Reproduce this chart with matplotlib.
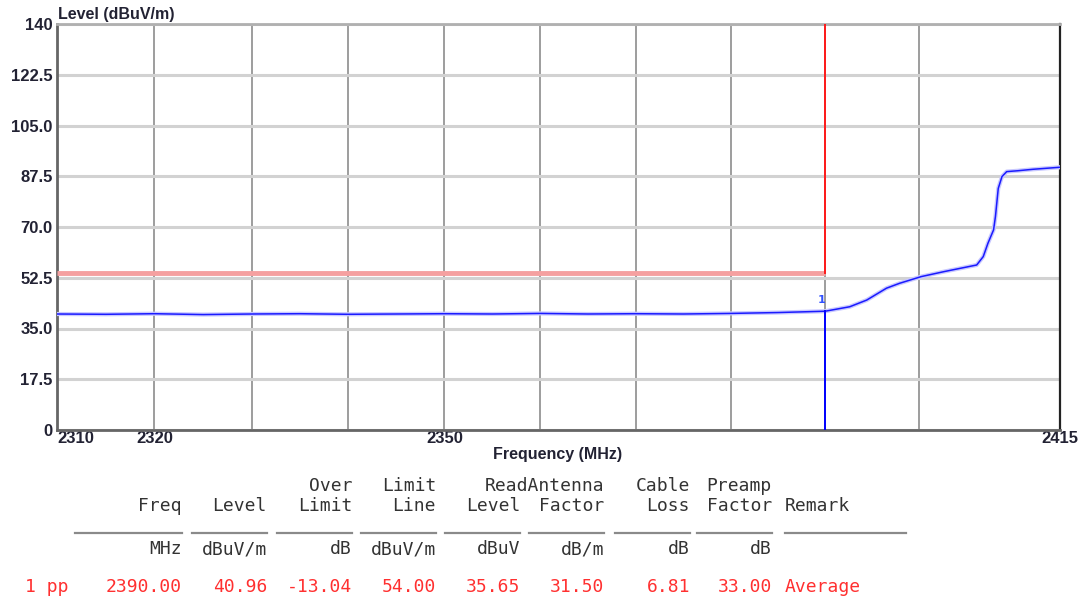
import matplotlib
matplotlib.use("Agg")
import matplotlib.pyplot as plt
from matplotlib.ticker import FixedLocator, NullFormatter

# ---------------- data ----------------
freq_mhz = [2310, 2315, 2320, 2325, 2330, 2335, 2340, 2345, 2350, 2355,
            2360, 2365, 2370, 2375, 2380, 2385, 2390,
            2392.6, 2394.4, 2396.5, 2397.9, 2400.2, 2402.6, 2406.1, 2406.8,
            2407.3, 2407.9, 2408.1, 2408.4, 2408.8, 2409.3, 2410.5, 2412.1, 2415]
level_dbuv = [40.0, 39.9, 40.1, 39.8, 40.0, 40.1, 39.9, 40.0, 40.1, 40.0,
              40.2, 40.0, 40.1, 40.0, 40.2, 40.5, 40.96,
              42.5, 44.8, 48.9, 50.6, 52.9, 54.6, 56.9, 59.8,
              64.4, 69.0, 73.6, 83.3, 87.4, 89.1, 89.4, 89.9, 90.6]

limit_freq = [2310, 2390]
limit_level = [54.0, 54.0]
marker_freq = 2390.0
marker_level = 40.96

x_tick_vals = [2310, 2320, 2350, 2415]
x_tick_labels = ["2310", "2320", "2350", "2415"]
x_grid_vals = [2320, 2330, 2340, 2350, 2360, 2370, 2380, 2390, 2400]
y_tick_vals = [0, 17.5, 35.0, 52.5, 70.0, 87.5, 105.0, 122.5, 140]
y_tick_labels = ["0", "17.5", "35.0", "52.5", "70.0", "87.5", "105.0", "122.5", "140"]

header1 = ["", "", "Over", "Limit", "", "ReadAntenna", "Cable", "Preamp"]
header2 = ["Freq", "Level", "Limit", "Line", "Level", "Factor", "Loss", "Factor"]
units = ["MHz", "dBuV/m", "dB", "dBuV/m", "dBuV", "dB/m", "dB", "dB"]
row_values = ["2390.00", "40.96", "-13.04", "54.00", "35.65", "31.50", "6.81", "33.00"]
row_index = "1 pp"
row_remark = "Average"

# ---------------- figure ----------------
W, H = 1081, 599
fig = plt.figure(figsize=(W / 100, H / 100), dpi=100)
fig.patch.set_facecolor("white")

def px(x, y):
    return x / W, 1 - y / H

L, R, T, B = 57, 1060, 24, 430
ax = fig.add_axes([L / W, 1 - B / H, (R - L) / W, (B - T) / H])
ax.set_xscale("log")
ax.set_xlim(2310, 2415)
ax.set_ylim(0, 140)

ax.xaxis.set_major_locator(FixedLocator(x_tick_vals))
ax.set_xticklabels(x_tick_labels)
ax.xaxis.set_minor_locator(FixedLocator(x_grid_vals))
ax.xaxis.set_minor_formatter(NullFormatter())
ax.xaxis.remove_overlapping_locs = False
ax.set_yticks(y_tick_vals)
ax.set_yticklabels(y_tick_labels)

ax.tick_params(axis="both", which="both", length=0)
ax.tick_params(axis="x", pad=1)
ax.tick_params(axis="y", pad=3)
for lab in ax.get_xticklabels() + ax.get_yticklabels():
    lab.set_fontweight("bold")
    lab.set_fontsize(12)
    lab.set_color("#222233")
    lab.set_family("Liberation Sans")
xl = ax.get_xticklabels()
xl[0].set_horizontalalignment("left")
xl[-1].set_horizontalalignment("center")

ax.grid(False)
ax.yaxis.grid(True, color="#d2d2d2", linewidth=2.2)
ax.xaxis.grid(True, which="minor", color="#8c8c8c", linewidth=1.2)
ax.set_axisbelow(True)

for side in ["left", "bottom"]:
    ax.spines[side].set_color("#666666")
    ax.spines[side].set_linewidth(2.0)
ax.spines["top"].set_color("#b0b0b0")
ax.spines["top"].set_linewidth(2.0)
ax.spines["right"].set_color("#222222")
ax.spines["right"].set_linewidth(1.6)

# limit line
ax.plot(limit_freq, limit_level, color="#f5a0a0", linewidth=3.5, solid_capstyle="butt", zorder=3)
ax.plot([limit_freq[-1], limit_freq[-1]], [limit_level[-1], 140], color="#ff1a1a", linewidth=1.4, zorder=3)

# trace
ax.plot(freq_mhz, level_dbuv, color="#c8c8ff", linewidth=3.0, zorder=4, solid_joinstyle="round")
ax.plot(freq_mhz, level_dbuv, color="#1a1aff", linewidth=1.1, zorder=5)

# marker
ax.plot([marker_freq, marker_freq], [0, marker_level], color="#0000ff", linewidth=1.4, zorder=6)
ax.text(marker_freq, marker_level + 2.0, "1", color="#3050ff", fontsize=8, fontweight="bold",
        ha="right", va="bottom", zorder=7)

# axis titles
fig.text(*px(58, 14), "Level (dBuV/m)", fontsize=11.5, fontweight="bold", color="#222233",
         ha="left", va="center", family="Liberation Sans")
fig.text(*px(558, 455), "Frequency (MHz)", fontsize=11.5, fontweight="bold", color="#222233",
         ha="center", va="center", family="Liberation Sans")

# ---------------- table ----------------
mono = "DejaVu Sans Mono"
fs = 13
txt_col = "#333333"
red = "#ff3030"
col_right = [182, 267, 352, 436, 520, 604, 690, 772]
col_left = [75, 192, 277, 361, 445, 529, 615, 697]
remark_x = 785

y_h1, y_h2, y_line, y_unit, y_data = 486, 506, 533, 549, 587

for i, xr in enumerate(col_right):
    if header1[i]:
        fig.text(*px(xr, y_h1), header1[i], family=mono, fontsize=fs, color=txt_col, ha="right", va="center")
    fig.text(*px(xr, y_h2), header2[i], family=mono, fontsize=fs, color=txt_col, ha="right", va="center")
    fig.text(*px(xr, y_unit), units[i], family=mono, fontsize=fs, color=txt_col, ha="right", va="center")
    fig.text(*px(xr, y_data), row_values[i], family=mono, fontsize=fs, color=red, ha="right", va="center")
    x0, y0 = px(col_left[i], y_line)
    x1, _ = px(xr, y_line)
    fig.add_artist(plt.Line2D([x0, x1], [y0, y0], transform=fig.transFigure, color="#8a8a8a", linewidth=1.6))

fig.text(*px(remark_x, y_h2), "Remark", family=mono, fontsize=fs, color=txt_col, ha="left", va="center")
x0, y0 = px(remark_x, y_line)
x1, _ = px(906, y_line)
fig.add_artist(plt.Line2D([x0, x1], [y0, y0], transform=fig.transFigure, color="#8a8a8a", linewidth=1.6))
fig.text(*px(remark_x, y_data), row_remark, family=mono, fontsize=fs, color=red, ha="left", va="center")
fig.text(*px(25, y_data), row_index, family=mono, fontsize=fs, color=red, ha="left", va="center")

fig.savefig("out.png", dpi=100, facecolor="white")
